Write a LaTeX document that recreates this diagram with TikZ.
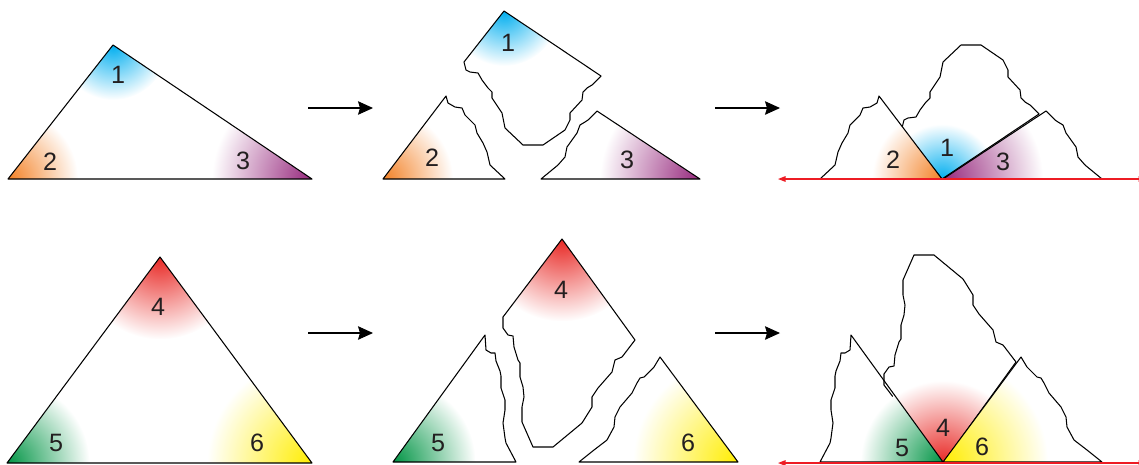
\documentclass[tikz,border=0pt]{standalone}
\usepackage{fontspec}
\setmainfont{Liberation Sans}
\usetikzlibrary{arrows.meta}
\definecolor{bluecol}{RGB}{0,174,239}
\definecolor{orangecol}{RGB}{243,128,36}
\definecolor{purplecol}{RGB}{150,40,125}
\definecolor{redcol}{RGB}{232,40,36}
\definecolor{greencol}{RGB}{0,148,68}
\definecolor{yellowcol}{RGB}{255,237,0}
\definecolor{linecol}{RGB}{237,28,36}
\definecolor{numcol}{RGB}{35,31,32}

% outlines, in pixel units (y pointing down)
\newcommand{\triA}{(113,45) -- (8,179) -- (312,179) -- cycle}
\newcommand{\triB}{(160,257) -- (7,463) -- (312,463) -- cycle}
\newcommand{\pcOne}{(504,11) -- (464,62) -- (466,70) -- (470,72) -- (478,73) -- (482,80) -- (488,88) -- (492,92) -- (492,98) -- (498,107) -- (502,113) -- (505,128) -- (523,145) -- (543,145) -- (565,130) -- (570,120) -- (570,113) -- (582,100) -- (583,92) -- (587,88) -- (592,85) -- (601,76) -- cycle}
\newcommand{\pcTwo}{(383,179) -- (446,96) -- (448,103) -- (455,107) -- (462,108) -- (465,115) -- (472,122) -- (475,125) -- (477,133) -- (483,143) -- (487,152) -- (490,165) -- (505,179) -- cycle}
\newcommand{\pcThree}{(541,179) -- (558,165) -- (565,157) -- (567,147) -- (577,133) -- (580,125) -- (585,122) -- (588,120) -- (597,111) -- (700,179) -- cycle}
\newcommand{\pcFour}{(562,239) -- (503,317) -- (503,328) -- (508,335) -- (513,336) -- (514,347) -- (518,360) -- (520,363) -- (520,377) -- (523,387) -- (524,397) -- (522,407) -- (522,422) -- (533,447) -- (553,447) -- (582,423) -- (592,407) -- (592,397) -- (598,388) -- (612,372) -- (615,360) -- (622,357) -- (635,340) -- cycle}
\newcommand{\pcFive}{(393,462) -- (485,335) -- (486,350) -- (491,353) -- (495,353) -- (496,361) -- (500,371) -- (501,376) -- (501,388) -- (505,400) -- (505,410) -- (503,423) -- (505,438) -- (506,443) -- (516,462) -- cycle}
\newcommand{\pcSix}{(579,462) -- (594,450) -- (607,440) -- (614,427) -- (615,417) -- (620,407) -- (632,393) -- (637,383) -- (640,378) -- (644,377) -- (654,367) -- (660,357) -- (738,462) -- cycle}

% colour glow in one corner, kept inside the outline
\newcommand{\glow}[4]{\begin{scope}\clip #1; \shade[inner color=#3, outer color=white] #2 circle (#4);\end{scope}}

\begin{document}
\begin{tikzpicture}[
  x=0.02cm, y=-0.02cm,
  piece/.style={draw=black, line width=0.6pt, line join=round},
  num/.style={font=\fontsize{14.3}{16}\selectfont, text=numcol, inner sep=0pt},
  go/.style={-{Stealth[length=0.3cm, width=0.27cm, inset=0.04cm]}, line width=0.6pt},
  base/.style={{Triangle[length=0.15cm, width=0.11cm]}-{Triangle[length=0.15cm, width=0.11cm]}, linecol, line width=0.6pt}
]
\useasboundingbox (0,0) rectangle (1139,464);

% Whole triangles
\glow{\triA}{(113,45)}{bluecol}{1.1cm}
\glow{\triA}{(8,179)}{orangecol}{1.4cm}
\glow{\triA}{(312,179)}{purplecol}{2.0cm}
\draw[piece] \triA;

\glow{\triB}{(160,257)}{redcol}{1.65cm}
\glow{\triB}{(7,463)}{greencol}{1.65cm}
\glow{\triB}{(312,463)}{yellowcol}{2.1cm}
\draw[piece] \triB;

% Torn pieces
\glow{\pcOne}{(504,11)}{bluecol}{1.1cm}       \draw[piece] \pcOne;
\glow{\pcTwo}{(383,179)}{orangecol}{1.4cm}    \draw[piece] \pcTwo;
\glow{\pcThree}{(700,179)}{purplecol}{2.0cm}  \draw[piece] \pcThree;
\glow{\pcFour}{(562,239)}{redcol}{1.65cm}     \draw[piece] \pcFour;
\glow{\pcFive}{(393,462)}{greencol}{1.65cm}   \draw[piece] \pcFive;
\glow{\pcSix}{(738,462)}{yellowcol}{2.1cm}    \draw[piece] \pcSix;

% Pieces put together on the line
\begin{scope}[shift={(438,190)}, yscale=-1]
  \glow{\pcOne}{(504,11)}{bluecol}{1.1cm} \draw[piece] \pcOne;
\end{scope}
\begin{scope}[shift={(1325,0)}, xscale=-1]
  \glow{\pcTwo}{(383,179)}{orangecol}{1.4cm} \draw[piece] \pcTwo;
\end{scope}
\begin{scope}[shift={(1643,0)}, xscale=-1]
  \glow{\pcThree}{(700,179)}{purplecol}{2.0cm} \draw[piece] \pcThree;
\end{scope}
\begin{scope}[shift={(381,702)}, yscale=-1]
  \glow{\pcFour}{(562,239)}{redcol}{1.65cm} \draw[piece] \pcFour;
\end{scope}
\begin{scope}[shift={(1336,0)}, xscale=-1]
  \glow{\pcFive}{(393,462)}{greencol}{1.65cm} \draw[piece] \pcFive;
\end{scope}
\begin{scope}[shift={(1681,0)}, xscale=-1]
  \glow{\pcSix}{(738,462)}{yellowcol}{2.1cm} \draw[piece] \pcSix;
\end{scope}

% Straight lines
\coordinate (la) at (778,179);  \coordinate (lb) at (1146,179);
\coordinate (lc) at (778,463);  \coordinate (ld) at (1146,463);
\draw[base] (la) -- (lb);
\draw[base] (lc) -- (ld);

% Arrows between the steps
\coordinate (a1) at (308,108);  \coordinate (b1) at (373,108);
\coordinate (a2) at (715,108);  \coordinate (b2) at (780,108);
\coordinate (a3) at (308,333);  \coordinate (b3) at (373,333);
\coordinate (a4) at (715,333);  \coordinate (b4) at (780,333);
\foreach \a/\b in {a1/b1, a2/b2, a3/b3, a4/b4}
  \draw[go] (\a) -- (\b);

% Angle numbers
\foreach \nm/\x/\y/\t in {1a/118/75/1, 2a/50/162/2, 3a/243/161/3,
                          1b/508/43/1, 2b/432/158/2, 3b/627/160/3,
                          1c/947/148/1, 2c/893/160/2, 3c/1003/162/3,
                          4a/158/307/4, 5a/56/443/5, 6a/257/443/6,
                          4b/561/290/4, 5b/438/443/5, 6b/688/443/6,
                          4c/943/428/4, 5c/902/448/5, 6c/982/447/6}
  \node[num] (n\nm) at (\x,\y) {\t};

\end{tikzpicture}
\end{document}
